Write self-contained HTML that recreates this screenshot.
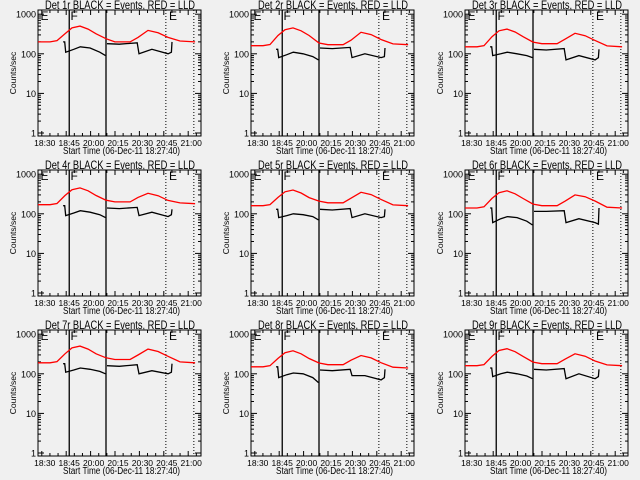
<!DOCTYPE html>
<html><head><meta charset="utf-8"><style>
body{margin:0;background:#f0f0f0;}
svg{display:block;font-family:"Liberation Sans",sans-serif;}
</style></head><body>
<svg id="c" width="640" height="480"></svg>
<script>
const tickLabels=["18:30","18:45","20:00","20:15","20:30","20:45","21:00"];
const tickMinutes=[2.33,17.33,32.33,47.33,62.33,77.33,92.33];
const redTimes=[0,7.4,11.7,16.6,20.9,25.8,30.8,35.7,41.8,47.3,56.6,61.5,67.6,73.8,79.9,87.3,96.6];
const blk1Times=[15.4,16.4,17,22,26,32,38,41.5];
const blk2Times=[42.4,50,61,62.1,70,80,82,82.4];
const detNames=["1r","2r","3r","4r","5r","6r","7r","8r","9r"];
const redVals=[
[200,200,215,320,450,500,420,320,240,200,200,260,390,340,260,210,200],
[160,160,172,290,405,450,380,290,187,170,170,220,350,305,230,178,170],
[150,150,160,270,380,420,355,270,198,180,180,234,330,287,218,158,150],
[170,170,182,290,405,450,380,290,220,200,200,260,330,287,218,189,180],
[160,160,171,260,360,400,336,256,209,190,190,247,350,305,231,168,160],
[140,140,150,245,342,380,320,243,176,160,160,208,300,270,211,147,140],
[190,190,203,320,450,500,420,320,253,230,230,299,420,365,277,200,190],
[150,150,160,245,342,380,320,243,187,170,170,221,290,252,191,147,140],
[160,160,171,275,387,430,361,275,198,180,180,234,320,278,211,168,160]];
const blk1Vals=[
[200,200,110,130,150,140,110,90],[130,130,80,95,110,100,85,70],[150,150,90,100,110,100,90,80],
[160,160,90,105,120,110,95,80],[130,130,80,90,100,95,85,70],[140,140,60,75,85,80,65,52],
[180,180,110,125,140,130,115,100],[150,150,80,95,105,100,80,60],[140,140,85,100,110,100,88,75]];
const blk2Vals=[
[180,175,190,100,130,100,110,200],[140,135,145,80,100,80,85,140],[130,125,135,70,90,70,80,130],
[140,135,145,90,110,85,95,130],[130,125,135,80,100,80,85,130],[115,115,120,60,75,60,55,140],
[160,155,170,100,120,100,110,180],[125,120,130,90,90,70,80,130],[130,125,135,75,100,75,85,130]];
const solidLines=[19.2,41.8];
const dottedLines=[78.6,95.8];
const markerLetters=[["E",1.5],["F",20],["E",80.5]];
const NS="http://www.w3.org/2000/svg";
const svg=document.getElementById('c');
function mk(t,a,p){const e=document.createElementNS(NS,t);for(const k in a)e.setAttribute(k,a[k]);(p||svg).appendChild(e);return e;}
const X0=38,X1=201,Y0=10,Y1=136,TMAX=100.2;
for(let i=0;i<9;i++){
 const ox=[0,213,427][i%3], oy=[0,160,320][Math.floor(i/3)];
 const g=mk('g',{transform:`translate(${ox},${oy})`});
 
 
 const xs=m=>X0+(X1-X0)*m/TMAX;
 const ys=v=>133-39.6*Math.log10(v);
 const t=mk('text',{x:45,y:9,'font-size':'11.5',textLength:150,lengthAdjust:'spacingAndGlyphs'},g);
 t.textContent=`Det ${detNames[i]} BLACK = Events, RED = LLD`;
 
 const box=mk('rect',{x:X0,y:Y0,width:X1-X0,height:Y1-Y0,fill:'none',stroke:'#000','stroke-width':1},g);
 
 for(let d=0;d<=3;d++){
  const v=Math.pow(10,d),y=ys(v);
  mk('line',{x1:X0,x2:X0+6,y1:y,y2:y,stroke:'#000'},g);mk('line',{x1:X1-6,x2:X1,y1:y,y2:y,stroke:'#000'},g);
  const l=mk('text',{x:X0-2,y:y+3.5,'text-anchor':'end','font-size':'9'},g);l.textContent=String(v);
  
  if(d<3)for(let k=2;k<10;k++){const yy=ys(v*k);mk('line',{x1:X0,x2:X0+3,y1:yy,y2:yy,stroke:'#000'},g);mk('line',{x1:X1-3,x2:X1,y1:yy,y2:yy,stroke:'#000'},g);}
 }
 const yl=mk('text',{transform:`translate(16,73) rotate(-90)`,'text-anchor':'middle','font-size':'8.5'},g);yl.textContent='Counts/sec';
 
 tickMinutes.forEach((m,j)=>{const x=xs(m);
  mk('line',{x1:x,x2:x,y1:Y1,y2:Y1-5,stroke:'#000'},g);mk('line',{x1:x,x2:x,y1:Y0,y2:Y0+5,stroke:'#000'},g);
  for(let k=1;k<3;k++){const xm=xs(m+k*5);if(xm<X1){mk('line',{x1:xm,x2:xm,y1:Y1,y2:Y1-3,stroke:'#000'},g);mk('line',{x1:xm,x2:xm,y1:Y0,y2:Y0+3,stroke:'#000'},g);}}
  const l=mk('text',{x:x+3,y:146,'text-anchor':'middle','font-size':'8.5'},g);l.textContent=tickLabels[j];
  });
 const xl=mk('text',{x:63,y:154,'font-size':'10',textLength:117,lengthAdjust:'spacingAndGlyphs'},g);xl.textContent='Start Time (06-Dec-11 18:27:40)';
 
 solidLines.forEach(m=>{const l=mk('line',{x1:xs(m),x2:xs(m),y1:Y0,y2:Y1,stroke:'#000','stroke-width':1.3},g);});
 dottedLines.forEach(m=>{const l=mk('line',{x1:xs(m),x2:xs(m),y1:Y0,y2:Y1,stroke:'#000','stroke-dasharray':'1,2'},g);});
 markerLetters.forEach(([s,m])=>{const l=mk('text',{x:xs(m),y:Y0+10,'font-size':'12'},g);l.textContent=s;});
 const path=(ts,vs)=>ts.map((m,k)=>(k?'L':'M')+xs(m).toFixed(1)+' '+ys(vs[k]).toFixed(1)).join(' ');
 const r=mk('path',{d:path(redTimes,redVals[i]),fill:'none',stroke:'#ff0000','stroke-width':1.3},g);
 
 [[blk1Times,blk1Vals],[blk2Times,blk2Vals]].forEach(([ts,vs])=>{
  const b=mk('path',{d:path(ts,vs[i]),fill:'none',stroke:'#000','stroke-width':1.3},g);
  });
}
</script>
</body></html>
